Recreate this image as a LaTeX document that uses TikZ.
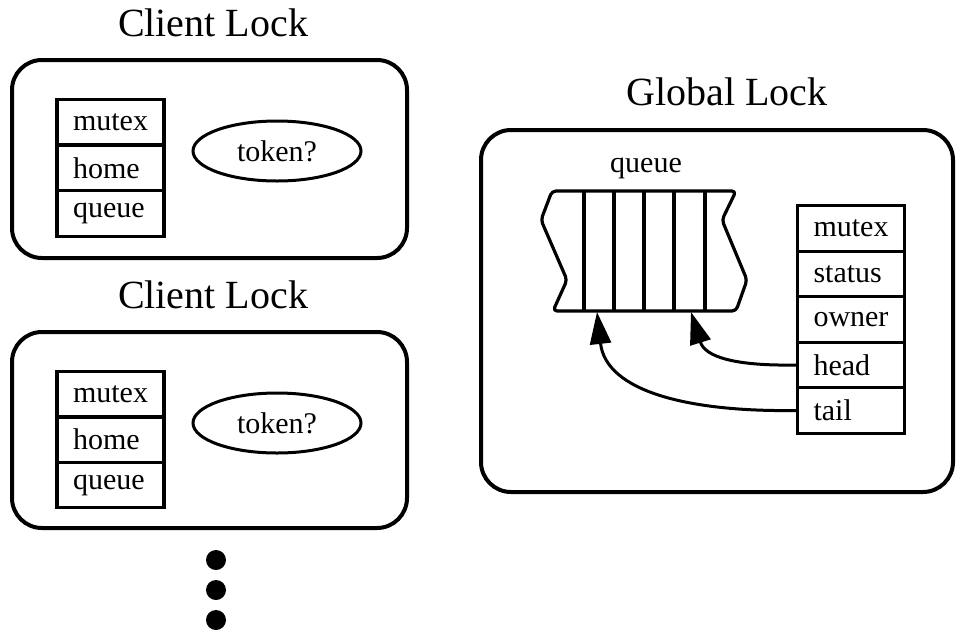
\documentclass[tikz,border=0pt]{standalone}
\usepackage{fontspec}
\setmainfont{Liberation Serif}
\usetikzlibrary{shapes.geometric,arrows.meta}
\begin{document}
\begin{tikzpicture}[x=1pt,y=-1pt,
  lockbox/.style={line width=4pt,rounded corners=30pt},
  fieldcell/.style={draw,line width=3.2pt,rectangle,minimum height=45.6pt,
    text width=75pt,inner xsep=16pt,inner ysep=0pt,align=left,
    font=\fontsize{30}{36}\selectfont},
  tokennode/.style={draw,line width=3pt,ellipse,minimum width=168pt,
    minimum height=60pt,inner sep=0pt,font=\fontsize{30}{36}\selectfont},
  titletext/.style={font=\fontsize{40}{48}\selectfont,inner sep=0pt},
  smalltext/.style={font=\fontsize{30}{36}\selectfont,inner sep=0pt},
  qline/.style={line width=3.2pt,line join=round},
  ptr/.style={line width=3pt,-{Triangle[length=32pt,width=21pt]}},
  dotmark/.style={fill=black,circle,inner sep=0pt,minimum size=20pt}]
\useasboundingbox (0,0) rectangle (956,630);

% ---------- Client Lock 1 ----------
\node[titletext] (t1) at (213,23) {Client Lock};
\draw[lockbox] (12,60) rectangle (407,258);
\node[fieldcell] (c1mutex) at (110.5,122) {mutex};
\node[fieldcell] (c1home) at (110.5,168) {home};
\node[fieldcell] (c1queue) at (110.5,213.5) {queue};
\node[tokennode] (c1tok) at (277,151) {token?};

% ---------- Client Lock 2 ----------
\node[titletext] (t2) at (213,295) {Client Lock};
\draw[lockbox] (12,332) rectangle (407,528);
\node[fieldcell] (c2mutex) at (110.5,394.5) {mutex};
\node[fieldcell] (c2home) at (110.5,439.5) {home};
\node[fieldcell] (c2queue) at (110.5,485) {queue};
\node[tokennode] (c2tok) at (277,423) {token?};

% ---------- dots ----------
\node[dotmark] (d1) at (216,560) {};
\node[dotmark] (d2) at (216,590) {};
\node[dotmark] (d3) at (216,620) {};

% ---------- Global Lock ----------
\node[titletext] (tg) at (727,92) {Global Lock};
\draw[lockbox] (481,130) rectangle (953,492);

\node[smalltext] (qlabel) at (646,168) {queue};
\draw[qline,rounded corners=4pt] (736,191) -- (552,191) -- (541,220) -- (567,280) -- (553,311) -- (736,311) -- (747,280) -- (722,220) -- cycle;
\foreach \xx in {584,614,644,674,705} {
  \draw[qline] (\xx,191) -- (\xx,311);
}
\coordinate (qtail) at (597,312);
\coordinate (qhead) at (691,312);

\node[fieldcell] (gmutex) at (851,228.5) {mutex};
\node[fieldcell] (gstatus) at (851,274) {status};
\node[fieldcell] (gowner) at (851,319.5) {owner};
\node[fieldcell] (ghead) at (851,365) {head};
\node[fieldcell] (gtail) at (851,410.5) {tail};

\draw[ptr] (ghead.west) .. controls (735,366) and (705,357) .. (qhead);
\draw[ptr] (gtail.west) .. controls (690,412) and (606,392) .. (qtail);
\end{tikzpicture}
\end{document}
